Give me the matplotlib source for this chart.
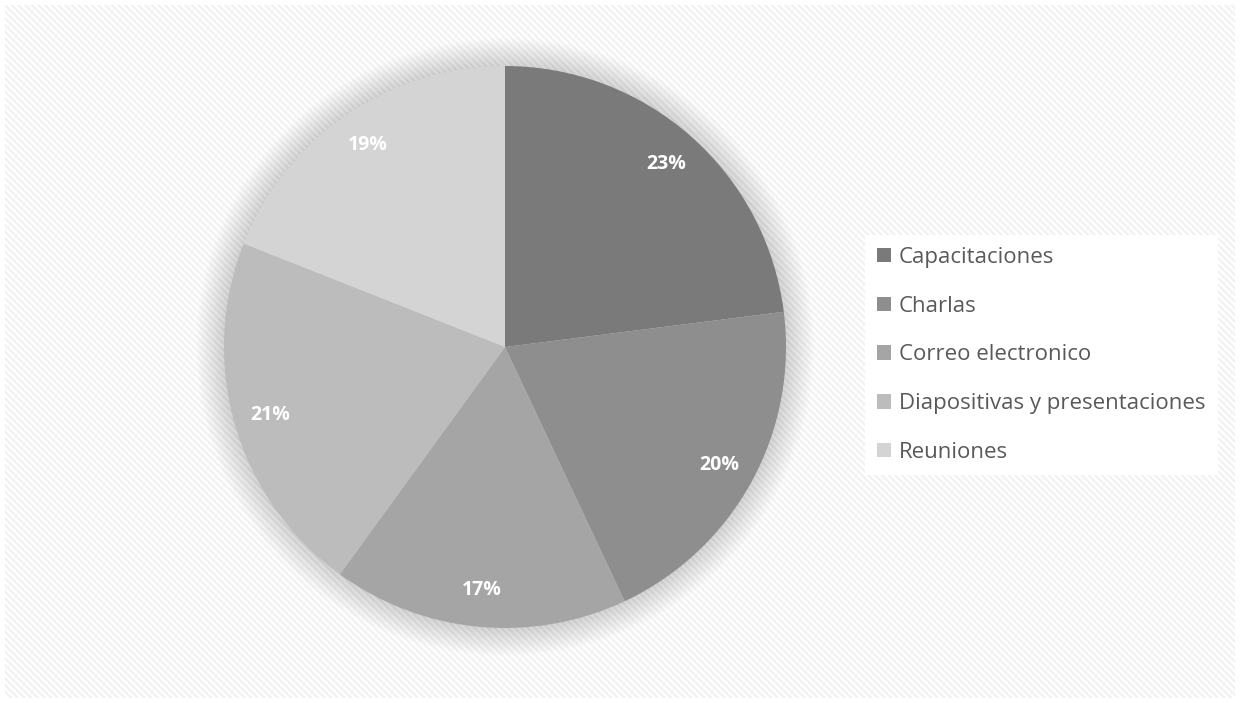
import matplotlib
matplotlib.use("Agg")
import matplotlib.pyplot as plt
from matplotlib.patches import Rectangle, Circle, Patch

categories = ["Capacitaciones", "Charlas", "Correo electronico",
              "Diapositivas y presentaciones", "Reuniones"]
values = [23, 20, 17, 21, 19]
colors = ["#7a7a7a", "#8e8e8e", "#a5a5a5", "#bcbcbc", "#d4d4d4"]

W, H = 1240, 703
fig = plt.figure(figsize=(W / 100, H / 100), dpi=100)
fig.patch.set_facecolor("white")

plt.rcParams["hatch.linewidth"] = 1.6
plt.rcParams["hatch.color"] = "#f1f1f1"
bg = Rectangle((5 / W, 5 / H), 1 - 10 / W, 1 - 10 / H, transform=fig.transFigure,
               facecolor="white", edgecolor="#f1f1f1", hatch="\\\\\\\\\\", linewidth=0,
               zorder=-5)
fig.patches.append(bg)

R = 281
cx, cy = 505, H - 347
half = 1.2 * R
ax = fig.add_axes([(cx - half) / W, (cy - half) / H, 2 * half / W, 2 * half / H])
ax.set_zorder(1)
ax.patch.set_alpha(0)

# soft glow shadow
n = 20
for i in range(n):
    r = 1.0 + 0.1 * (i + 1) / n
    ax.add_patch(Circle((0, 0), r, facecolor="black", edgecolor="none",
                        alpha=0.008, zorder=1))

wedges, texts, autotexts = ax.pie(
    values, colors=colors, startangle=90, counterclock=False,
    autopct=lambda p: f"{p:.0f}%", pctdistance=0.87,
    wedgeprops=dict(edgecolor="none"),
    textprops=dict(color="white", fontsize=14, fontweight="bold", family="Open Sans"),
    radius=1.0,
)
for w in wedges:
    w.set_zorder(2)
for t in autotexts:
    t.set_zorder(3)
ax.set_xlim(-1.2, 1.2)
ax.set_ylim(-1.2, 1.2)
ax.set_aspect("auto")
ax.axis("off")

handles = [Patch(facecolor=c, edgecolor="none") for c in colors]
leg = fig.legend(handles, categories, loc="center left",
                 bbox_to_anchor=(865 / W, 1 - 355 / H), borderaxespad=0,
                 frameon=True, facecolor="white", edgecolor="none", fancybox=False,
                 framealpha=1.0, borderpad=0.55, labelspacing=1.25,
                 handlelength=0.62, handleheight=0.62, handletextpad=0.35,
                 prop=dict(family="Open Sans", size=16))
leg.set_zorder(5)
for t in leg.get_texts():
    t.set_color("#595959")

fig.savefig("out.png", dpi=100)
